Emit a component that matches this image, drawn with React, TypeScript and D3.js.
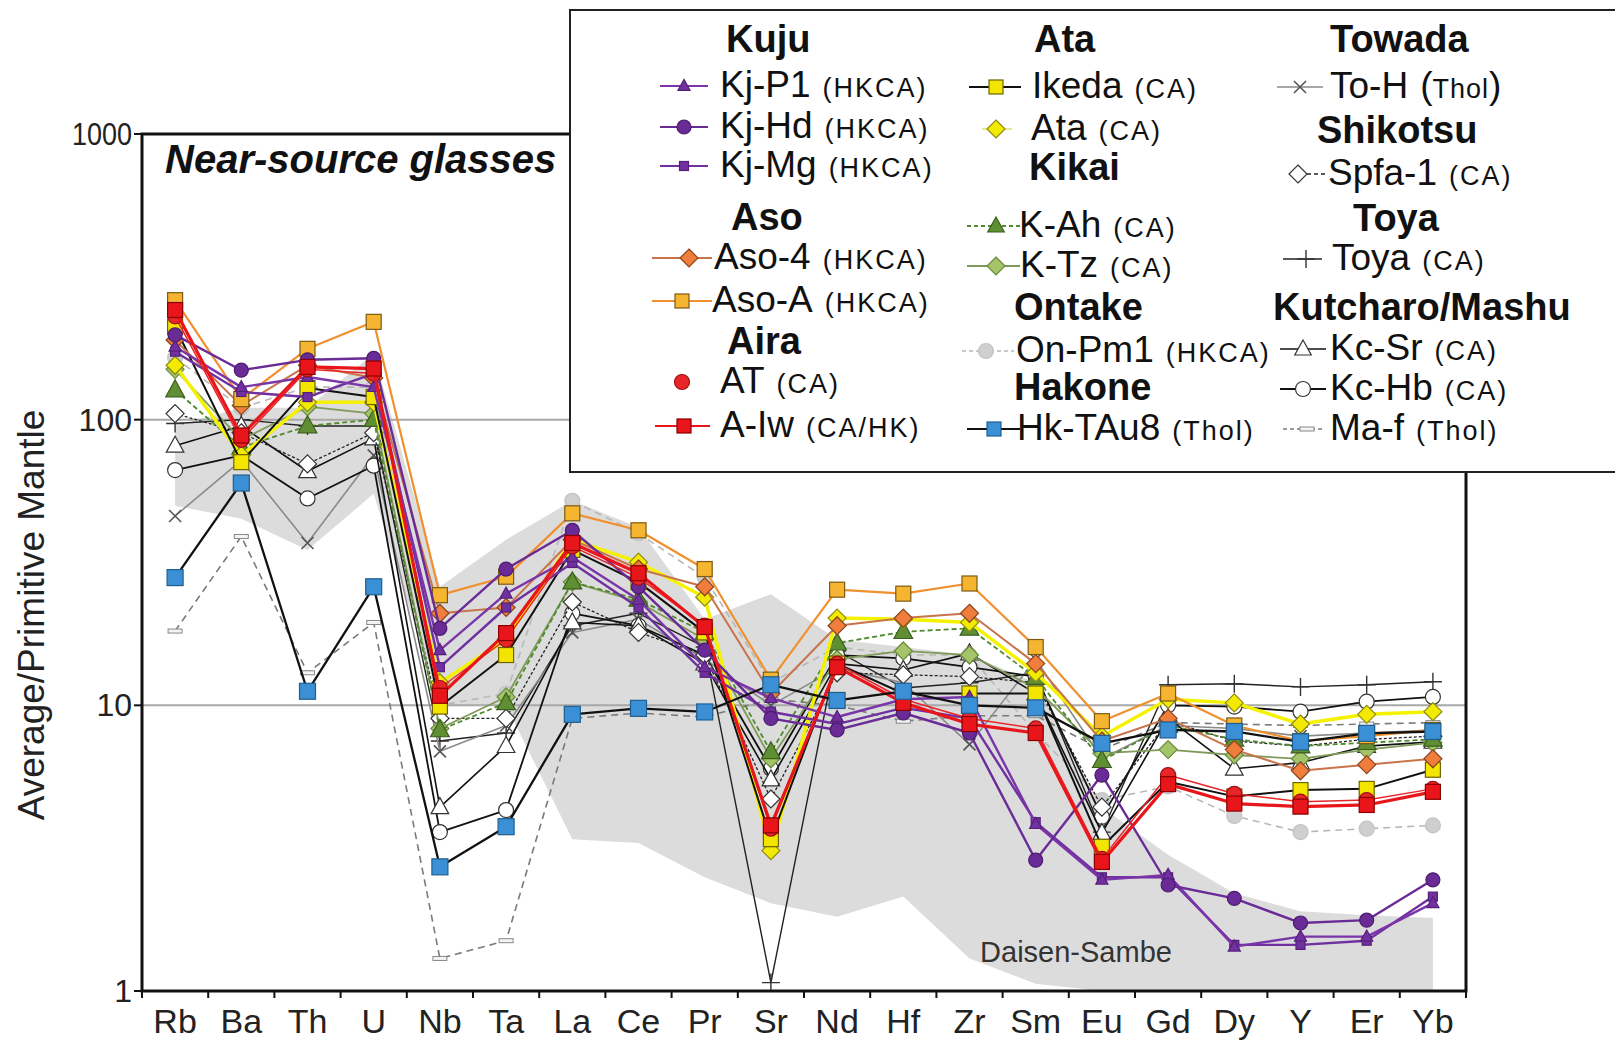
import React from 'react';
import * as d3 from 'd3';

// ---------- data ----------
const elements = ['Rb','Ba','Th','U','Nb','Ta','La','Ce','Pr','Sr','Nd','Hf','Zr','Sm','Eu','Gd','Dy','Y','Er','Yb'];
const yTicks = [1, 10, 100, 1000];

const daisenUpper = [95,110,110,170,26,38,52,42,20,24.5,17,16,15,12,4.4,3.0,2.2,1.9,1.84,1.8];
const daisenLower = [50,45,35,55,10,10,3.4,3.3,2.5,2.03,1.82,2.14,1.3,1.06,1,1,1,1,1,1];

const kjP1 = [180,130,141,130,15.6,24.6,33,23.4,13.6,10.6,9.1,10.5,10.7,3.84,2.45,2.55,1.43,1.55,1.55,2.03];
const kjHd = [198,149,162,164,18.6,30,41,26,15.6,9.0,8.2,9.4,8.0,2.87,5.7,2.35,2.11,1.73,1.77,2.45];
const kjMg = [173,125,120,145,13.6,22,31.5,22,13,9.5,8.6,9.8,9.0,3.9,2.5,2.5,1.45,1.45,1.5,2.14];
const aso4 = [190,112,155,140,21,22,38,30,26,11,19,20.2,21,14,7.5,9,7.0,5.9,6.2,6.5];
const asoA = [262,118,177,220,24.3,28.2,47,41,30,12.3,25.4,24.6,26.7,16,8.8,11,8.5,7.5,7.8,8.2];
const atAira = [230,85,150,145,11.5,17,36,28,19,3.7,14,10.5,9.0,8.3,2.9,5.7,4.9,4.6,4.66,5.1];
const aIw = [242,88,153,151,10.8,17.9,37,29,18.8,3.8,13.6,10.2,8.6,8.0,2.83,5.3,4.53,4.42,4.48,4.98];
const ikeda = [211,71,129,120,9.9,15,35,27,18,3.4,14,11,11,11,3.2,5.4,4.8,5.05,5.1,5.95];
const ata = [155,75,115,115,12,17,38,31.7,23.9,3.1,20.2,20,19.5,13,7.8,10.5,10.2,8.6,9.3,9.5];
const kAh = [127,80,95,100,8.2,10.2,27,23.5,18,6.87,16.5,18.1,18.6,12.5,6.4,8.5,7.6,7.2,7.4,7.6];
const kTz = [150,85,111,105,8.3,10.7,27,23,17,6.5,14.5,15.5,15,11.5,6.8,7.0,6.7,6.5,7.0,7.4];
const onPm1 = [165,110,130,130,10,11,52,40,28,12,16,15,15,8,4.66,5.2,4.1,3.6,3.7,3.8];
const hkTAu8 = [28,60,11.2,26,2.72,3.76,9.3,9.76,9.48,11.8,10.4,11.2,10.0,9.8,7.36,8.2,8.1,7.45,7.98,8.1];
const toH = [46,72,37,75,6.9,8.5,18,20,14.5,10,13.5,12,7.3,14.5,6.5,8.5,8.3,7.8,8.0,8.2];
const spfa1 = [105,90,70,90,9,9,23,18,15,4.7,13,12.8,12.6,12,4.4,8.8,7.5,7.2,7.6,7.8];
const toya = [97,100,95,95,7.5,8,19,21,16,1.07,15.5,11.5,12,13,3.6,11.8,11.9,11.6,11.8,12.1];
const kcSr = [81,95,66,86,4.4,7.2,19.5,19,14,5.5,14,13.3,15.2,11,3.57,9,6.0,6.3,7.2,7.45];
const kcHb = [66.6,75,53,69,3.6,4.3,21,19,15,6.0,15,14.6,13.6,12.6,4.07,10,9.9,9.5,10.3,10.7];
const maF = [18.2,39,13,19.5,1.3,1.5,9.0,9.4,9.1,10.5,10,8.8,9.2,9.2,7.0,8.7,8.6,8.5,8.6,8.7];

// ---------- styles ----------
type Sty = { key: string; data: number[]; color: string; width: number; dash?: string; marker: string; fill: string; stroke: string; size: number };

const series: Sty[] = [
  { key: 'maF', data: maF, color: '#7a7a7a', width: 1.6, dash: '7,5', marker: 'dash', fill: '#f4f4f4', stroke: '#888', size: 7 },
  { key: 'onPm1', data: onPm1, color: '#b8b8b8', width: 1.6, dash: '7,5', marker: 'circle', fill: '#cfcfcf', stroke: '#c4c4c4', size: 7.5 },
  { key: 'toya', data: toya, color: '#222', width: 1.4, marker: 'plus', fill: 'none', stroke: '#333', size: 9 },
  { key: 'toH', data: toH, color: '#8a8a8a', width: 1.6, marker: 'times', fill: 'none', stroke: '#555', size: 6 },
  { key: 'kcHb', data: kcHb, color: '#111', width: 1.8, marker: 'circle', fill: '#fff', stroke: '#333', size: 7.5 },
  { key: 'kcSr', data: kcSr, color: '#111', width: 1.6, marker: 'triangle', fill: '#fff', stroke: '#333', size: 16 },
  { key: 'spfa1', data: spfa1, color: '#222', width: 1.3, dash: '3,2', marker: 'diamond', fill: '#fff', stroke: '#333', size: 9 },
  { key: 'kTz', data: kTz, color: '#7f9a5a', width: 1.8, marker: 'diamond', fill: '#a4c46a', stroke: '#6b8a3c', size: 9 },
  { key: 'kAh', data: kAh, color: '#4f8a2c', width: 1.8, dash: '5,3', marker: 'triangle', fill: '#5f8f32', stroke: '#3b5e1e', size: 17 },
  { key: 'ata', data: ata, color: '#f5f200', width: 3.5, marker: 'diamond', fill: '#f2ea00', stroke: '#8f8a10', size: 9 },
  { key: 'ikeda', data: ikeda, color: '#111', width: 2, marker: 'square', fill: '#f3e500', stroke: '#6d6400', size: 15 },
  { key: 'aso4', data: aso4, color: '#c8734a', width: 2, marker: 'diamond', fill: '#ef7d3b', stroke: '#8a4520', size: 9 },
  { key: 'asoA', data: asoA, color: '#f0902e', width: 2.2, marker: 'square', fill: '#f6b531', stroke: '#7d5a10', size: 15 },
  { key: 'kjMg', data: kjMg, color: '#7030a0', width: 2.4, marker: 'square', fill: '#7030a0', stroke: '#55207a', size: 9 },
  { key: 'kjP1', data: kjP1, color: '#7a35a8', width: 2.4, marker: 'triangle', fill: '#7030a0', stroke: '#55207a', size: 11 },
  { key: 'kjHd', data: kjHd, color: '#6a2b96', width: 2.4, marker: 'circle', fill: '#6a2b96', stroke: '#4b1c6e', size: 7 },
  { key: 'at', data: atAira, color: '#e8262a', width: 1.5, marker: 'circle', fill: '#e8262a', stroke: '#a01010', size: 7.5 },
  { key: 'aIw', data: aIw, color: '#e8161b', width: 3.2, marker: 'square', fill: '#e8161b', stroke: '#8b0000', size: 15 },
  { key: 'hkTAu8', data: hkTAu8, color: '#111', width: 2.3, marker: 'square', fill: '#3b8fd4', stroke: '#1f5f90', size: 16 },
];
const styleOf = (k: string) => series.find(s => s.key === k)!;

// ---------- layout ----------
const W = 1615, H = 1040;
const L = 142, R = 1466, T = 134, B = 991;
const FONT = "'Liberation Sans', Arial, Helvetica, sans-serif";

function markerNode(type: string, x: number, y: number, fill: string, stroke: string, s: number, key?: string) {
  const tr = `translate(${x},${y})`;
  switch (type) {
    case 'square':
      return <rect key={key} x={x - s / 2} y={y - s / 2} width={s} height={s} fill={fill} stroke={stroke} strokeWidth={1.2} />;
    case 'circle':
      return <circle key={key} cx={x} cy={y} r={s} fill={fill} stroke={stroke} strokeWidth={1.2} />;
    case 'diamond':
      return <path key={key} transform={tr} d={`M0,${-s}L${s},0L0,${s}L${-s},0Z`} fill={fill} stroke={stroke} strokeWidth={1.2} />;
    case 'triangle':
      return <path key={key} transform={tr} d={`M0,${-s * 0.6}L${s * 0.55},${s * 0.4}L${-s * 0.55},${s * 0.4}Z`} fill={fill} stroke={stroke} strokeWidth={1.2} />;
    case 'times':
      return <path key={key} transform={tr} d={`M${-s},${-s}L${s},${s}M${-s},${s}L${s},${-s}`} fill="none" stroke={stroke} strokeWidth={1.6} />;
    case 'plus':
      return <path key={key} transform={tr} d={`M${-s},0H${s}M0,${-s}V${s}`} fill="none" stroke={stroke} strokeWidth={1.4} />;
    case 'dash':
      return <rect key={key} x={x - s} y={y - 2} width={2 * s} height={4} fill={fill} stroke={stroke} strokeWidth={1} />;
    default:
      return null;
  }
}

const legendHeaders = [
  { t: 'Kuju', x: 726, y: 52 }, { t: 'Aso', x: 731, y: 230 }, { t: 'Aira', x: 727, y: 354 },
  { t: 'Ata', x: 1034, y: 52 }, { t: 'Kikai', x: 1029, y: 180 }, { t: 'Ontake', x: 1014, y: 320 }, { t: 'Hakone', x: 1014, y: 400 },
  { t: 'Towada', x: 1330, y: 52 }, { t: 'Shikotsu', x: 1317, y: 143 }, { t: 'Toya', x: 1353, y: 231 }, { t: 'Kutcharo/Mashu', x: 1273, y: 320 },
];

const legendItems = [
  { k: 'kjP1', label: 'Kj-P1', suf: '(HKCA)', tx: 720, y: 97, lx1: 660, lx2: 708, mx: 684 },
  { k: 'kjHd', label: 'Kj-Hd', suf: '(HKCA)', tx: 720, y: 138, lx1: 660, lx2: 708, mx: 684 },
  { k: 'kjMg', label: 'Kj-Mg', suf: '(HKCA)', tx: 720, y: 177, lx1: 660, lx2: 708, mx: 684 },
  { k: 'aso4', label: 'Aso-4', suf: '(HKCA)', tx: 714, y: 269, lx1: 652, lx2: 712, mx: 689 },
  { k: 'asoA', label: 'Aso-A', suf: '(HKCA)', tx: 712, y: 312, lx1: 652, lx2: 712, mx: 682 },
  { k: 'at', label: 'AT', suf: '(CA)', tx: 720, y: 393, lx1: 0, lx2: 0, mx: 682 },
  { k: 'aIw', label: 'A-Iw', suf: '(CA/HK)', tx: 720, y: 437, lx1: 655, lx2: 710, mx: 684 },
  { k: 'ikeda', label: 'Ikeda', suf: '(CA)', tx: 1032, y: 98, lx1: 969, lx2: 1021, mx: 996 },
  { k: 'ata', label: 'Ata', suf: '(CA)', tx: 1031, y: 140, lx1: 982, lx2: 1012, mx: 996 },
  { k: 'kAh', label: 'K-Ah', suf: '(CA)', tx: 1019, y: 237, lx1: 967, lx2: 1020, mx: 996 },
  { k: 'kTz', label: 'K-Tz', suf: '(CA)', tx: 1020, y: 277, lx1: 967, lx2: 1020, mx: 996 },
  { k: 'onPm1', label: 'On-Pm1', suf: '(HKCA)', tx: 1016, y: 362, lx1: 962, lx2: 1014, mx: 986 },
  { k: 'hkTAu8', label: 'Hk-TAu8', suf: '(Thol)', tx: 1017, y: 440, lx1: 967, lx2: 1020, mx: 994 },
  { k: 'toH', label: 'To-H', suf: 'THOL_BIG', tx: 1330, y: 98, lx1: 1277, lx2: 1323, mx: 1300 },
  { k: 'spfa1', label: 'Spfa-1', suf: '(CA)', tx: 1328, y: 185, lx1: 1300, lx2: 1327, mx: 1298 },
  { k: 'toya', label: 'Toya', suf: '(CA)', tx: 1332, y: 270, lx1: 1283, lx2: 1322, mx: 1306 },
  { k: 'kcSr', label: 'Kc-Sr', suf: '(CA)', tx: 1330, y: 360, lx1: 1280, lx2: 1326, mx: 1303 },
  { k: 'kcHb', label: 'Kc-Hb', suf: '(CA)', tx: 1330, y: 400, lx1: 1280, lx2: 1326, mx: 1303 },
  { k: 'maF', label: 'Ma-f', suf: '(Thol)', tx: 1330, y: 440, lx1: 1283, lx2: 1322, mx: 1307 },
];

export default function App() {
  const x = d3.scaleBand<string>().domain(elements).range([L, R]);
  const cx = (i: number) => (x(elements[i]) as number) + x.bandwidth() / 2;
  const y = d3.scaleLog().domain([1, 1000]).range([B, T]);

  const line = d3.line<number>().x((_, i) => cx(i)).y(v => y(v));
  const area = d3.area<number>()
    .x((_, i) => cx(i))
    .y0((_, i) => y(Math.max(1, daisenLower[i])))
    .y1((_, i) => y(daisenUpper[i]));

  const boundaries = elements.map((_, i) => L + i * x.bandwidth()).concat([R]);

  return (
    <svg width={W} height={H} style={{ position: 'absolute', left: 0, top: 0, display: 'block' }} fontFamily={FONT}>
      <rect x={0} y={0} width={W} height={H} fill="#fff" />
      {/* Daisen-Sambe field */}
      <path d={area(daisenUpper) || ''} fill="#dcdcdc" stroke="none" />
      <text x={1076} y={962} fontSize={29} textAnchor="middle" fill="#333">Daisen-Sambe</text>
      {/* gridlines */}
      {[10, 100].map(v => <line key={v} x1={L} x2={R} y1={y(v)} y2={y(v)} stroke="#a8a8a8" strokeWidth={2} />)}
      {/* series */}
      {series.map(s => (
        <g key={s.key}>
          <path d={line(s.data) || ''} fill="none" stroke={s.color} strokeWidth={s.width} strokeDasharray={s.dash} strokeLinejoin="round" />
          {s.data.map((v, i) => markerNode(s.marker, cx(i), y(v), s.fill, s.stroke, s.size, `${s.key}${i}`))}
        </g>
      ))}
      {/* frame */}
      <rect x={L} y={T} width={R - L} height={B - T} fill="none" stroke="#111" strokeWidth={3} />
      {boundaries.map((b, i) => <line key={i} x1={b} x2={b} y1={B} y2={B + 7} stroke="#111" strokeWidth={2} />)}
      {yTicks.map(v => (
        <g key={v}>
          <line x1={L - 8} x2={L} y1={y(v)} y2={y(v)} stroke="#111" strokeWidth={2} />
          <text x={132} y={y(v) + 11} fontSize={32} textAnchor="end" fill="#222"
            textLength={v === 1000 ? 60 : undefined} lengthAdjust="spacingAndGlyphs">{v}</text>
        </g>
      ))}
      {elements.map((e, i) => (
        <text key={e} x={cx(i)} y={1033} fontSize={34} textAnchor="middle" fill="#222">{e}</text>
      ))}
      <text transform="translate(44,615) rotate(-90)" fontSize={37} textAnchor="middle" fill="#222">Average/Primitive Mantle</text>
      <text x={165} y={173} fontSize={40} fontWeight="bold" fontStyle="italic" fill="#111">Near-source glasses</text>
      {/* legend */}
      <rect x={570} y={10} width={1070} height={462} fill="#fff" stroke="#222" strokeWidth={2} />
      {legendHeaders.map(h => (
        <text key={h.t} x={h.x} y={h.y} fontSize={38} fontWeight="bold" fill="#111">{h.t}</text>
      ))}
      {legendItems.map(it => {
        const s = styleOf(it.k);
        const my = it.y - 11;
        return (
          <g key={it.k}>
            {it.lx2 > it.lx1 && (
              <line x1={it.lx1} x2={it.lx2} y1={my} y2={my} stroke={s.key === 'ata' ? '#e6e890' : s.color}
                strokeWidth={Math.min(s.width, 2)} strokeDasharray={s.dash ? '4,3' : undefined} />
            )}
            {markerNode(s.marker, it.mx, my, s.fill, s.stroke,
              s.marker === 'square' ? Math.min(s.size, 14) : s.marker === 'triangle' ? Math.min(s.size, 15) : s.size)}
            <text x={it.tx} y={it.y} fontSize={37} fill="#111">
              <tspan>{it.label}</tspan>
              {it.suf === 'THOL_BIG' ? (
                <>
                  <tspan dx={12}>(</tspan>
                  <tspan fontSize={27} letterSpacing={1}>Thol</tspan>
                  <tspan>)</tspan>
                </>
              ) : (
                <tspan dx={12} fontSize={27} letterSpacing={2}>{it.suf}</tspan>
              )}
            </text>
          </g>
        );
      })}
    </svg>
  );
}
